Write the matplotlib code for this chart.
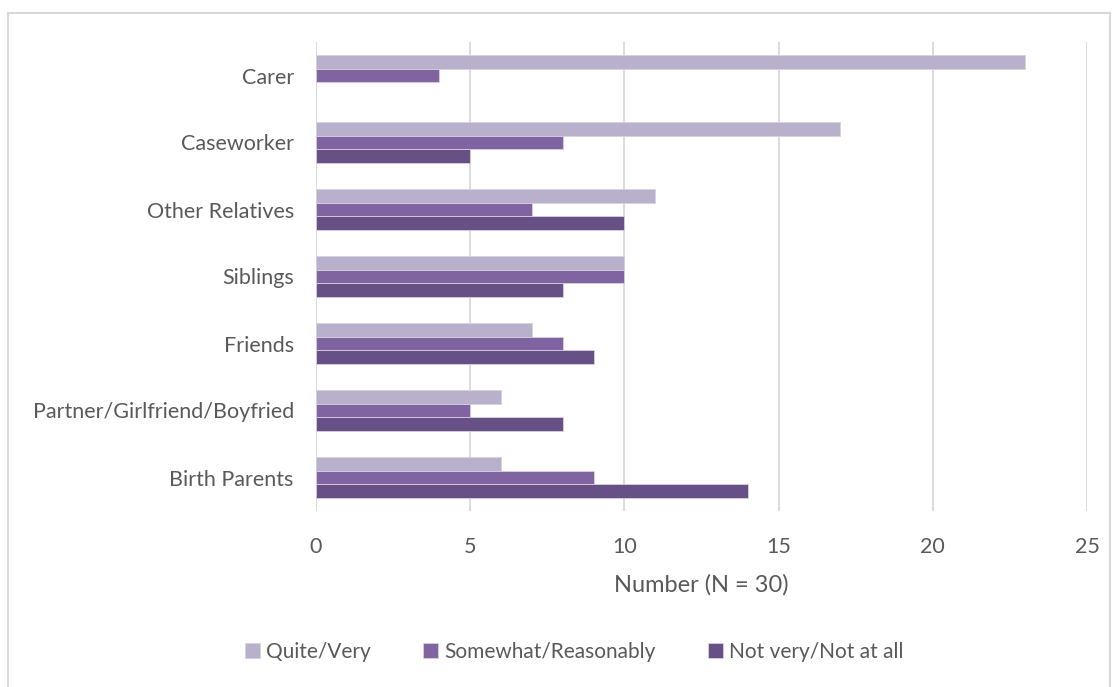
import numpy as np
import matplotlib
matplotlib.use("Agg")
from matplotlib import pyplot as plt
from matplotlib.patches import Rectangle

categories = ["Carer", "Caseworker", "Other Relatives", "Siblings", "Friends",
              "Partner/Girlfriend/Boyfried", "Birth Parents"]
quite_very = [23, 17, 11, 10, 7, 6, 6]
somewhat = [4, 8, 7, 10, 8, 5, 9]
not_very = [0, 5, 10, 8, 9, 8, 14]
series_names = ["Quite/Very", "Somewhat/Reasonably", "Not very/Not at all"]
colors = ["#B9B0CC", "#8064A2", "#675085"]
x_ticks = [0, 5, 10, 15, 20, 25]

plt.rcParams["font.family"] = ["Lato", "DejaVu Sans"]
text_color = "#595959"

fig = plt.figure(figsize=(11.14, 6.87), dpi=100)
fig.patches.append(Rectangle((8 / 1114, -0.1), 1102 / 1114, 1.1 - 13 / 687,
                             transform=fig.transFigure, fill=False,
                             edgecolor="#D9D9D9", linewidth=1.5))

ax = fig.add_axes([316 / 1114, 1 - 511 / 687, 771 / 1114, 469 / 687])

pos = np.arange(len(categories))[::-1]
h = 0.205
for i, (vals, name, c) in enumerate(zip([quite_very, somewhat, not_very], series_names, colors)):
    ax.barh(pos + (1 - i) * h, vals, height=h, color=c, label=name,
            edgecolor="#D8D0E2", linewidth=0.6)

ax.set_xlim(0, 25)
ax.set_ylim(-0.5, 6.5)
ax.set_xticks(x_ticks)
ax.set_yticks(pos)
ax.set_yticklabels(categories)
ax.tick_params(length=0, labelsize=15.5, labelcolor=text_color)
ax.tick_params(axis="x", pad=19)
ax.tick_params(axis="y", pad=16)
ax.grid(axis="x", color="#D9D9D9", linewidth=1.3)
ax.set_axisbelow(True)
for s in ax.spines.values():
    s.set_visible(False)

ax.set_xlabel("Number (N = 30)", fontsize=17, color=text_color, labelpad=12)

fig.legend(loc="center", bbox_to_anchor=(574 / 1114, 1 - 652 / 687), ncol=3,
           frameon=False, fontsize=15, labelcolor=text_color,
           handlelength=0.72, handleheight=0.72, handletextpad=0.3, columnspacing=2.5)

fig.savefig("out.png", dpi=100)
